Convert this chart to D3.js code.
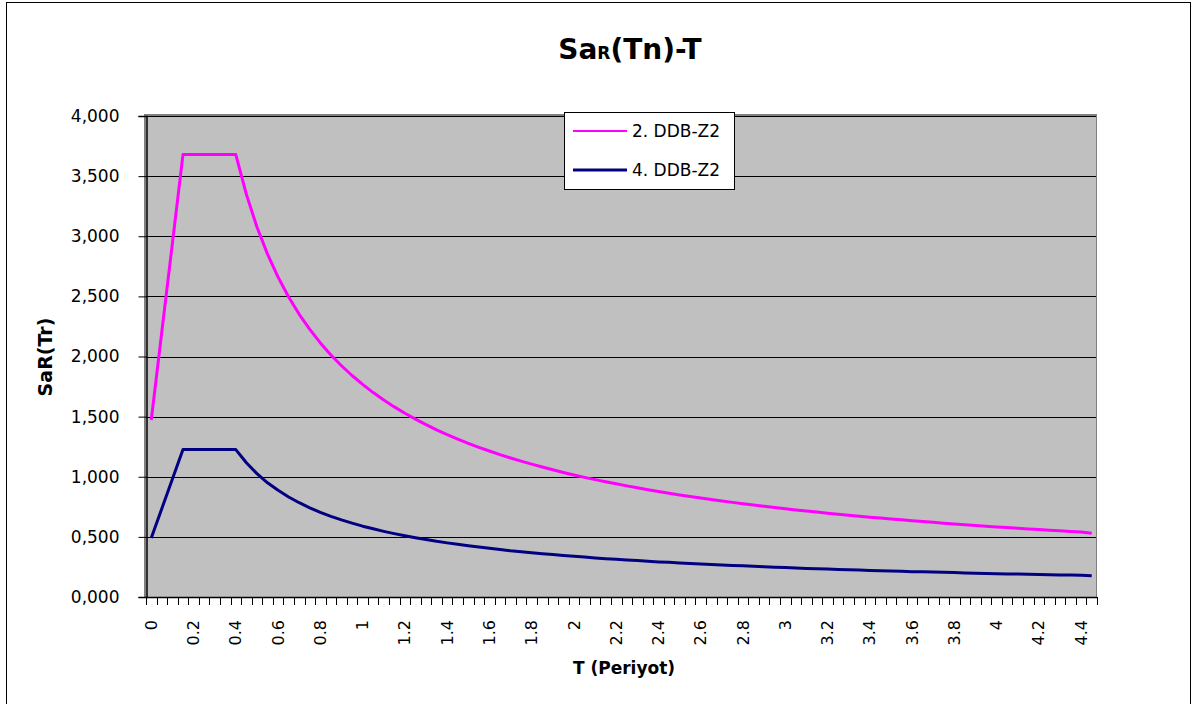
<!DOCTYPE html>
<html>
<head>
<meta charset="utf-8">
<script src="https://cdn.jsdelivr.net/npm/d3@7/dist/d3.min.js"></script>
<style>
    body { margin: 0; background: #fff; }
    svg { display: block; }
</style>
</head>
<body>
<svg id="chart" width="1193" height="704"></svg>
<script>
// Periods (category axis of the sheet)
let periods = [0, 0.05, 0.1, 0.15, 0.2, 0.25, 0.3, 0.35, 0.4, 0.45,
    0.5, 0.55, 0.6, 0.65, 0.7, 0.75, 0.8, 0.85, 0.9, 0.95,
    1, 1.05, 1.1, 1.15, 1.2, 1.25, 1.3, 1.35, 1.4, 1.45,
    1.5, 1.55, 1.6, 1.65, 1.7, 1.75, 1.8, 1.85, 1.9, 1.95,
    2, 2.05, 2.1, 2.15, 2.2, 2.25, 2.3, 2.35, 2.4, 2.45,
    2.5, 2.55, 2.6, 2.65, 2.7, 2.75, 2.8, 2.85, 2.9, 2.95,
    3, 3.05, 3.1, 3.15, 3.2, 3.25, 3.3, 3.35, 3.4, 3.45,
    3.5, 3.55, 3.6, 3.65, 3.7, 3.75, 3.8, 3.85, 3.9, 3.95,
    4, 4.05, 4.1, 4.15, 4.2, 4.25, 4.3, 4.35, 4.4, 4.45];

// 2. DDB-Z2
let ddb2 = [1.472, 2.208, 2.943, 3.679, 3.679, 3.679, 3.679, 3.679, 3.679, 3.348,
    3.077, 2.851, 2.660, 2.495, 2.351, 2.225, 2.113, 2.013, 1.923, 1.842,
    1.768, 1.700, 1.638, 1.581, 1.528, 1.479, 1.433, 1.390, 1.350, 1.313,
    1.278, 1.245, 1.214, 1.184, 1.156, 1.130, 1.105, 1.081, 1.058, 1.036,
    1.015, 0.995, 0.976, 0.958, 0.941, 0.924, 0.908, 0.892, 0.877, 0.863,
    0.849, 0.836, 0.823, 0.811, 0.799, 0.787, 0.776, 0.765, 0.754, 0.744,
    0.734, 0.724, 0.715, 0.706, 0.697, 0.688, 0.680, 0.672, 0.664, 0.656,
    0.649, 0.642, 0.634, 0.627, 0.621, 0.614, 0.608, 0.601, 0.595, 0.589,
    0.583, 0.577, 0.572, 0.566, 0.561, 0.555, 0.550, 0.545, 0.540, 0.530];

// 4. DDB-Z2
let ddb4 = [0.491, 0.736, 0.981, 1.226, 1.226, 1.226, 1.226, 1.226, 1.226, 1.116,
    1.026, 0.950, 0.887, 0.832, 0.784, 0.742, 0.704, 0.671, 0.641, 0.614,
    0.589, 0.567, 0.546, 0.527, 0.509, 0.493, 0.478, 0.463, 0.450, 0.438,
    0.426, 0.415, 0.405, 0.395, 0.385, 0.377, 0.368, 0.360, 0.353, 0.345,
    0.338, 0.332, 0.325, 0.319, 0.314, 0.308, 0.303, 0.297, 0.292, 0.288,
    0.283, 0.279, 0.274, 0.270, 0.266, 0.262, 0.259, 0.255, 0.251, 0.248,
    0.245, 0.241, 0.238, 0.235, 0.232, 0.229, 0.227, 0.224, 0.221, 0.219,
    0.216, 0.214, 0.211, 0.209, 0.207, 0.205, 0.203, 0.200, 0.198, 0.196,
    0.194, 0.192, 0.191, 0.189, 0.187, 0.185, 0.183, 0.182, 0.180, 0.176];

let seriesNames = ["2. DDB-Z2", "4. DDB-Z2"];
let seriesColors = ["#ff00ff", "#000080"];
let yTicks = [0, 0.5, 1, 1.5, 2, 2.5, 3, 3.5, 4];
let xLabels = [0, 0.2, 0.4, 0.6, 0.8, 1, 1.2, 1.4, 1.6, 1.8, 2, 2.2, 2.4,
    2.6, 2.8, 3, 3.2, 3.4, 3.6, 3.8, 4, 4.2, 4.4];

let svg = d3.select("#chart");
let font = "'DejaVu Sans', Arial, sans-serif";

let plot = { left: 146, right: 1097, top: 116, bottom: 597 };

let xScale = d3.scaleBand().domain(periods).range([plot.left, plot.right]);
let yScale = d3.scaleLinear().domain([0, 4]).range([plot.bottom, plot.top]);
let xCenter = (p) => xScale(p) + xScale.bandwidth() / 2;

// Outer chart frame
svg.append("rect")
    .attr("x", 6.5).attr("y", 2.5)
    .attr("width", 1184).attr("height", 710)
    .attr("fill", "#fff")
    .attr("stroke", "#000");

// Plot area with the grey shadow on top / left / right
svg.append("rect")
    .attr("x", plot.left - 2).attr("y", plot.top - 2)
    .attr("width", plot.right - plot.left + 2).attr("height", plot.bottom - plot.top + 2)
    .attr("fill", "#808080");
svg.append("rect")
    .attr("x", plot.left).attr("y", plot.top)
    .attr("width", plot.right - plot.left - 1).attr("height", plot.bottom - plot.top)
    .attr("fill", "#c0c0c0");

// Gridlines
svg.append("g")
    .selectAll("line")
    .data(yTicks.filter(d => d > 0))
    .enter().append("line")
    .attr("x1", plot.left).attr("x2", plot.right - 1)
    .attr("y1", d => Math.round(yScale(d)) + 0.5)
    .attr("y2", d => Math.round(yScale(d)) + 0.5)
    .attr("stroke", "#000")
    .attr("stroke-width", 1);

// Y axis
let yAxis = svg.append("g")
    .attr("transform", "translate(" + (plot.left + 0.5) + ",0)")
    .call(d3.axisLeft(yScale)
        .tickValues(yTicks)
        .tickSize(8)
        .tickPadding(19)
        .tickFormat(d => d3.format(".3f")(d).replace(".", ",")));
yAxis.select(".domain").attr("stroke", "#000").attr("stroke-width", 1.5);
yAxis.selectAll(".tick line").attr("stroke", "#000");
yAxis.selectAll("text")
    .attr("font-family", font)
    .attr("font-size", "17px")
    .attr("fill", "#000");

// X axis: ticks between categories
let bounds = periods.map(p => xScale(p)).concat([plot.right]);
svg.append("line")
    .attr("x1", plot.left).attr("x2", plot.right)
    .attr("y1", plot.bottom + 0.5).attr("y2", plot.bottom + 0.5)
    .attr("stroke", "#000").attr("stroke-width", 1.5);
svg.append("g")
    .selectAll("line")
    .data(bounds)
    .enter().append("line")
    .attr("x1", d => Math.round(d) + 0.5)
    .attr("x2", d => Math.round(d) + 0.5)
    .attr("y1", plot.bottom).attr("y2", plot.bottom + 8)
    .attr("stroke", "#000");

// Rotated category labels every 4th category
svg.append("g")
    .selectAll("text")
    .data(xLabels)
    .enter().append("text")
    .attr("transform", d => "translate(" + xCenter(periods.find(p => Math.abs(p - d) < 1e-9)) + ",620) rotate(-90)")
    .attr("text-anchor", "end")
    .attr("dy", "0.35em")
    .attr("font-family", font)
    .attr("font-size", "16px")
    .text(d => String(d));

// Series lines
let lineGen = d3.line()
    .x((d, i) => xCenter(periods[i]))
    .y(d => yScale(d));

[ddb2, ddb4].forEach(function (values, i) {
    svg.append("path")
        .datum(values)
        .attr("d", lineGen)
        .attr("fill", "none")
        .attr("stroke", seriesColors[i])
        .attr("stroke-width", 3)
        .attr("stroke-linejoin", "round");
});

// Legend
let legend = svg.append("g").attr("transform", "translate(564,112)");
legend.append("rect")
    .attr("x", 0.5).attr("y", 0.5)
    .attr("width", 170).attr("height", 77)
    .attr("fill", "#fff")
    .attr("stroke", "#000");
seriesNames.forEach(function (name, i) {
    let y = 19 + i * 39;
    legend.append("line")
        .attr("x1", 9).attr("x2", 63)
        .attr("y1", y).attr("y2", y)
        .attr("stroke", seriesColors[i])
        .attr("stroke-width", i == 0 ? 2 : 3);
    legend.append("text")
        .attr("x", 68).attr("y", y + 6)
        .attr("font-family", font)
        .attr("font-size", "17px")
        .text(name);
});

// Titles
let title = svg.append("text")
    .attr("x", 630).attr("y", 59)
    .attr("text-anchor", "middle")
    .attr("font-family", font)
    .attr("font-weight", "bold")
    .attr("font-size", "28px");
title.append("tspan").text("Sa");
title.append("tspan").attr("font-size", "17px").text("R");
title.append("tspan").text("(Tn)-T");

svg.append("text")
    .attr("x", 624).attr("y", 674)
    .attr("text-anchor", "middle")
    .attr("font-family", font)
    .attr("font-weight", "bold")
    .attr("font-size", "17px")
    .text("T (Periyot)");

svg.append("text")
    .attr("transform", "translate(52,357) rotate(-90)")
    .attr("text-anchor", "middle")
    .attr("font-family", font)
    .attr("font-weight", "bold")
    .attr("font-size", "19px")
    .text("SaR(Tr)");
</script>
</body>
</html>
